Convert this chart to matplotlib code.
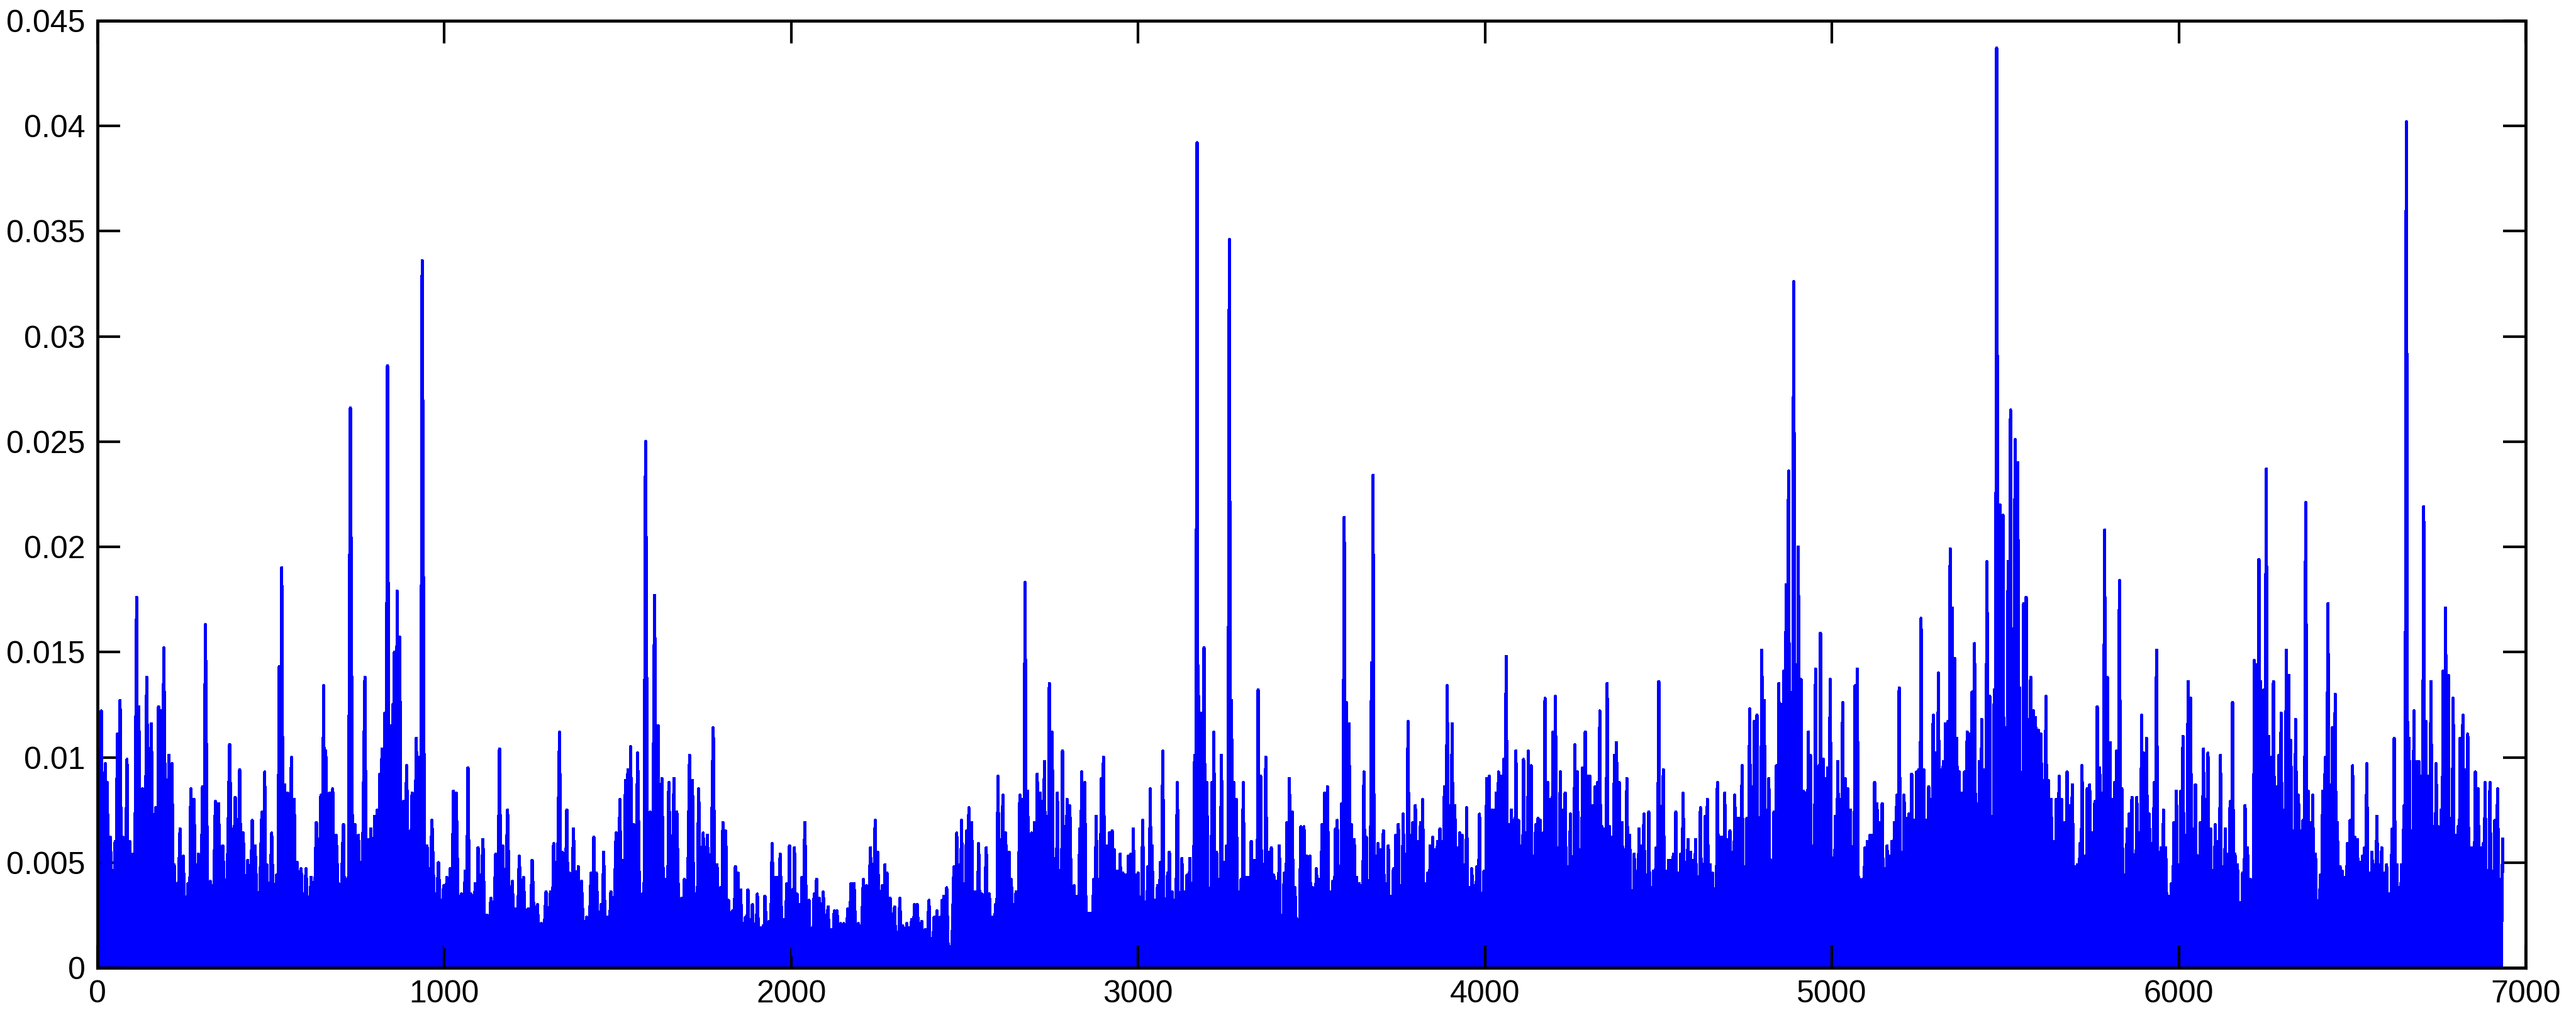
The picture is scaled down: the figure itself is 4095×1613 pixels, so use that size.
import numpy as np
import matplotlib
matplotlib.use("Agg")
import matplotlib.pyplot as plt

plt.rcParams['font.family'] = ['Liberation Sans', 'DejaVu Sans']

# spikes: (sample index, value)
seg1 = [(11,.0122),(23,.0097),(28,.0088),(37,.0062),(51,.006),(57,.0111),(65,.0127),(74,.0062),(85,.0099),(93,.006),
        (100,.0054),(113,.0176),(119,.0124),(130,.0085),(142,.0138),(155,.0116),(168,.0076),(176,.0124),(184,.0122),(191,.0152),
        (206,.0101),(215,.0097),(221,.0049),(238,.0066),(247,.0053),(261,.004),(269,.0085),(278,.008),(291,.0054),(303,.0086),
        (311,.0163),(325,.0041),(340,.0079),(349,.0078),(361,.0058),(381,.0106),(397,.0081),(410,.0094),(420,.0064),(433,.0051),
        (446,.007),(454,.0058),(474,.0074),(482,.0093),(488,.0049),(502,.0064),(516,.0044),(524,.0143),(531,.019),(540,.0087),
        (548,.0083),(559,.01),(567,.008),(576,.005),(587,.0047),(601,.0047),(616,.0043),(631,.0069),(644,.0082),(652,.0134),
        (658,.0103),(669,.0083),(678,.0085),(688,.0063),(709,.0068),(717,.0042),(729,.0266),(743,.0068),(752,.0063),(771,.0138),
        (779,.0061),(788,.0066),(799,.0072),(807,.0075),(814,.0092),(820,.0104),(828,.0121),(836,.0286),(845,.0115),(851,.0125),
        (856,.015),(864,.0179),(871,.0157),(882,.0079),(891,.0096),(907,.0083),(919,.0109),(928,.01),(936,.0336),(950,.0058),
        (964,.007),(983,.005),(998,.0039),(1007,.0043),(1017,.0047),(1026,.0084),(1034,.0083),(1049,.0035),(1060,.0046),(1068,.0095),
        (1077,.0035),(1089,.004),(1097,.0057),(1111,.0061),(1123,.0025),(1134,.0033),(1148,.0054),(1159,.0104),(1168,.0058),(1182,.0075),
        (1196,.0041),(1204,.0028),(1216,.0053),(1228,.0043),(1242,.0028),(1253,.0051),(1268,.003),(1279,.0021),(1293,.0036),(1306,.0036),
        (1315,.0059),(1332,.0112),(1340,.0055),(1353,.0075),(1361,.0045),(1372,.0066),(1386,.0048),(1395,.0041),(1410,.0024),(1423,.0045),
        (1431,.0062),(1438,.0045),(1452,.003),(1459,.0055),(1469,.0024),(1480,.0036),(1495,.0064),(1506,.008),(1514,.0051),(1522,.0089),
        (1529,.0094),(1537,.0105),(1546,.0068),(1557,.0102),(1571,.0035),(1580,.025),(1593,.0074),(1606,.0177),(1616,.0115),(1627,.009),
        (1639,.0042),(1647,.0088),(1662,.009),(1670,.0074),(1684,.0033),(1692,.0042),(1707,.0101),(1715,.0089),(1724,.0035),(1733,.0085),
        (1746,.0064),(1758,.0063),(1775,.0114)]

seg2 = [(1786,.0049),(1795,.0038),(1803,.0069),(1811,.0065),(1819,.0032),(1830,.0027),(1839,.0048),(1847,.0045),(1854,.0037),(1862,.0021),
        (1868,.0024),(1875,.0037),(1881,.0023),(1888,.003),(1895,.002),(1902,.0035),(1911,.0019),(1919,.002),(1924,.0034),(1936,.0022),
        (1945,.0059),(1953,.0043),(1958,.0043),(1968,.0054),(1979,.0023),(1987,.004),(1995,.0058),(2002,.0023),(2009,.0057),(2017,.0035),
        (2022,.003),(2031,.0043),(2039,.0069),(2051,.0032),(2058,.0018),(2066,.0035),(2073,.0042),(2081,.0033),(2092,.0036),(2106,.0029),
        (2115,.0018),(2124,.0027),(2132,.0027),(2142,.0021),(2151,.0021),(2163,.0028),(2172,.004),(2181,.004),(2193,.0021),(2208,.0042),
        (2217,.0039),(2228,.0057),(2242,.007),(2249,.0055),(2262,.0039),(2270,.0049),(2276,.0045),(2285,.0033),(2298,.0029),(2305,.0017),
        (2313,.0033),(2321,.002),(2333,.0021),(2341,.0019),(2347,.0023),(2355,.003),(2363,.003),(2376,.0022),(2385,.0018),(2397,.0032),
        (2403,.0014),(2412,.0024),(2420,.0027),(2429,.0024),(2435,.0032),(2440,.0034),(2448,.0038),(2457,.001),(2469,.0048),(2477,.0064),
        (2482,.0049),(2491,.007),(2498,.004),(2505,.0065),(2512,.0076),(2520,.0069),(2528,.0036),(2533,.0036),(2540,.0059),(2550,.0035),
        (2562,.0057),(2571,.0035),(2580,.0024),(2589,.003),(2596,.0091),(2603,.0061),(2610,.0082),(2618,.0064),(2628,.0055),(2634,.0042),
        (2648,.0036),(2659,.0082),(2667,.008),(2674,.0183),(2681,.0084),(2693,.0064),(2701,.0069),(2709,.0092),(2718,.0083),(2730,.0098),
        (2737,.0072),(2744,.0135),(2752,.0112),(2760,.0052),(2767,.0083),(2775,.0039),(2782,.0103),(2790,.0053),(2795,.008),(2803,.0077),
        (2815,.0039),(2823,.0034),(2832,.0066),(2837,.0093),(2846,.0088),(2854,.0026),(2863,.0026),(2872,.0042),(2879,.0072),(2886,.0042),
        (2894,.009),(2900,.01),(2909,.0058),(2917,.0064),(2925,.0065),(2931,.0056),(2939,.0046),(2948,.0054),(2956,.0045),(2964,.0044),
        (2972,.0053),(2979,.0054),(2986,.0066),(2993,.0044),(3000,.0045),(3007,.0033),(3013,.007),(3021,.0025),(3028,.0048),(3035,.0085),
        (3040,.0058),(3048,.0032),(3056,.0039),(3064,.005),(3071,.0103),(3078,.0027),(3085,.0045),(3090,.0055),(3098,.0036),(3104,.0032),
        (3113,.0088),(3120,.0032),(3126,.0052),(3135,.0036),(3141,.0044),(3149,.0052),(3155,.0019),(3163,.0101),(3170,.0392),(3175,.0129),
        (3183,.0121),(3190,.0152),(3198,.0088),(3206,.0035),(3213,.0088),(3218,.0112),(3226,.0055),(3233,.0042),(3240,.0101),(3248,.005),
        (3255,.0058),(3263,.0346),(3269,.0127),(3276,.0088),(3283,.008),(3291,.0036),(3297,.0042),(3303,.0088),(3311,.0043),(3319,.0043),
        (3326,.006),(3333,.0051),(3340,.0051),(3346,.0132),(3353,.0091),(3361,.0046),(3368,.01),(3376,.0055),(3384,.0057),(3391,.0044),
        (3399,.0041),(3407,.0058),(3413,.0022),(3421,.0045),(3429,.0069),(3436,.009),(3444,.0074),(3452,.0038),(3461,.0023),(3469,.0067),
        (3478,.0067),(3487,.0053),(3495,.0053),(3503,.0038),(3514,.0047),(3523,.0042),(3530,.0068),(3538,.0083),(3546,.0086),(3553,.0036)]

seg3 = [(3561,.0041),(3569,.0066),(3574,.007),(3580,.0032),(3587,.0078),(3594,.0214),(3600,.0126),(3608,.0116),(3615,.0068),(3623,.0061),
        (3630,.0043),(3637,.004),(3643,.0039),(3651,.0093),(3658,.0062),(3665,.004),(3673,.0145),(3677,.0234),(3684,.0034),(3691,.0059),
        (3699,.0056),(3707,.0065),(3714,.003),(3721,.0058),(3728,.0034),(3736,.0047),(3743,.0063),(3750,.0068),(3757,.0039),(3764,.0073),
        (3772,.0054),(3778,.0117),(3785,.0063),(3792,.0069),(3799,.0077),(3807,.006),(3814,.0069),(3820,.008),(3828,.004),(3835,.0045),
        (3842,.0058),(3849,.0062),(3857,.0056),(3863,.006),(3870,.0066),(3877,.006),(3883,.0086),(3891,.0134),(3899,.0077),(3905,.0116),
        (3913,.0077),(3920,.0057),(3927,.0064),(3934,.0063),(3941,.0049),(3947,.0076),(3954,.0038),(3962,.0047),(3969,.0039),(3976,.0048),
        (3984,.0073),(3990,.0031),(3997,.0046),(4005,.009),(4012,.0091),(4019,.0075),(4026,.0075),(4032,.0083),(4039,.0093),(4047,.0091),
        (4054,.0099),(4061,.0148),(4068,.0068),(4076,.0075),(4082,.007),(4089,.0103),(4097,.007),(4104,.0058),(4111,.0099),(4117,.0064),
        (4125,.0103),(4133,.0096),(4139,.0053),(4146,.0068),(4153,.0071),(4159,.007),(4167,.0064),(4173,.0128),(4181,.0088),(4188,.008),
        (4196,.0112),(4203,.0129),(4209,.0057),(4217,.0093),(4224,.0075),(4231,.0083),(4239,.0048),(4246,.0073),(4252,.0022),(4259,.0106),
        (4266,.0093),(4274,.0056),(4281,.0095),(4289,.0112),(4296,.0091),(4302,.0091),(4309,.0077),(4317,.0086),(4324,.0088),(4331,.0122),
        (4337,.0067),(4345,.0066),(4352,.0135),(4359,.0067),(4366,.0062),(4373,.0101),(4379,.0107),(4387,.0088),(4395,.0069),(4402,.0056),
        (4409,.009),(4417,.0063),(4424,.0035),(4430,.0054),(4437,.0046),(4444,.0066),(4451,.0058),(4458,.0073),(4466,.0044),(4472,.0074),
        (4479,.0038),(4486,.0046),(4493,.0057),(4501,.0136),(4508,.0044),(4514,.0094),(4521,.0046),(4529,.0051),(4536,.0051),(4543,.0054),
        (4550,.0074),(4556,.0045),(4564,.0054),(4571,.0083),(4578,.005),(4585,.0061),(4593,.0055),(4599,.0051),(4607,.0061),(4614,.0033),
        (4621,.0076),(4628,.0038),(4635,.0072),(4641,.008),(4649,.0049),(4656,.0045),(4663,.0032),(4670,.0088),(4678,.0062),(4684,.0062),
        (4691,.0083),(4699,.0061),(4706,.0065),(4713,.0055),(4720,.0082),(4728,.0071),(4734,.0071),(4741,.0096),(4748,.0048),(4755,.0071),
        (4763,.0123),(4770,.0086),(4776,.0117),(4784,.012),(4791,.0051),(4798,.0151),(4805,.0127),(4811,.0075),(4818,.009),(4826,.0051),
        (4833,.0074),(4840,.0096),(4847,.0135),(4855,.0125),(4861,.0141),(4868,.0182),(4875,.0236),(4882,.012),(4890,.0326),(4897,.0144),
        (4903,.02),(4911,.0137),(4918,.0084),(4925,.0083),(4932,.0112),(4938,.0101),(4945,.0035),(4953,.0142),(4960,.0093),(4967,.0159),
        (4975,.0099),(4982,.009),(4988,.0095),(4995,.0137),(5003,.005),(5010,.0072),(5017,.0098),(5025,.008),(5031,.0126),(5038,.009),
        (5046,.0085),(5053,.0075),(5060,.0056),(5067,.0134),(5073,.0142),(5080,.0042),(5088,.0042),(5095,.0057),(5102,.006),(5110,.0063),
        (5117,.0063),(5123,.0088),(5130,.0078),(5138,.0069),(5145,.0078),(5152,.0047),(5159,.0058),(5166,.0053),(5173,.006),(5180,.0069),
        (5187,.0082),(5194,.0133),(5202,.0055),(5208,.0082),(5215,.0071),(5222,.0073),(5230,.0092),(5237,.007),(5244,.0093),(5250,.0094),
        (5257,.0166),(5265,.0094),(5272,.007),(5279,.0086),(5286,.008),(5292,.012),(5299,.0102),(5307,.014),(5314,.0094),(5321,.0098),
        (5327,.0116)]

seg4 = [(5334,.0117),(5341,.0199),(5347,.0171),(5354,.0147),(5360,.0109),(5367,.0093),(5375,.0083),(5382,.0093),(5390,.0112),(5396,.0111),
        (5404,.0131),(5411,.0154),(5419,.0064),(5425,.0098),(5432,.0118),(5440,.0094),(5447,.0193),(5455,.0129),(5461,.0072),(5468,.0132),
        (5475,.0437),(5484,.022),(5493,.0215),(5500,.0114),(5508,.0193),(5515,.0265),(5522,.0133),(5528,.0251),(5532,.0176),(5536,.024),
        (5541,.0133),(5546,.0088),(5553,.0173),(5560,.0176),(5567,.0118),(5573,.0138),(5581,.0122),(5587,.0119),(5595,.0113),(5603,.0111),
        (5610,.0089),(5617,.0129),(5624,.0089),(5632,.008),(5640,.006),(5647,.008),(5655,.0091),(5662,.008),(5670,.0069),(5678,.0093),
        (5685,.0077),(5693,.0087),(5702,.0048),(5708,.0049),(5715,.0059),(5721,.0096),(5729,.0053),(5736,.0085),(5743,.0087),(5750,.0064),
        (5758,.0079),(5765,.0124),(5772,.0095),(5780,.0083),(5786,.0208),(5794,.0138),(5802,.0107),(5808,.008),(5815,.0088),(5821,.0103),
        (5829,.0184),(5836,.0085),(5843,.0044),(5851,.0066),(5857,.0073),(5865,.0081),(5872,.0053),(5879,.0081),(5886,.0064),(5893,.012),
        (5899,.0102),(5907,.0109),(5915,.0073),(5922,.0059),(5929,.0088),(5936,.0151),(5943,.0055),(5949,.0057),(5956,.0075),(5962,.0057),
        (5971,.0034),(5979,.004),(5986,.0069),(5993,.0084),(6001,.0049),(6006,.0084),(6012,.011),(6019,.0063),(6027,.0136),(6034,.0128),
        (6041,.0066),(6048,.0087),(6055,.0053),(6062,.0069),(6071,.0104),(6077,.008),(6084,.0102),(6092,.0066),(6098,.004),(6105,.0068),
        (6112,.006),(6120,.0101),(6127,.003),(6134,.0066),(6141,.0054),(6148,.0079),(6155,.0126),(6162,.0054),(6169,.0049),(6177,.0031),
        (6184,.0045),(6191,.0077),(6198,.0057),(6206,.0042),(6212,.0039),(6218,.0146),(6224,.0144),(6231,.0194),(6236,.0136),(6245,.0132),
        (6252,.0237),(6259,.011),(6267,.01),(6273,.0136),(6281,.0086),(6289,.0101),(6295,.0121),(6303,.0075),(6310,.0151),(6317,.0139),
        (6323,.0108),(6330,.0065),(6337,.0118),(6345,.0082),(6352,.0065),(6358,.007),(6366,.0221),(6373,.0084),(6380,.0069),(6386,.0082),
        (6394,.0054),(6401,.0023),(6408,.0044),(6415,.0084),(6422,.01),(6430,.0173),(6436,.0087),(6443,.0114),(6451,.013),(6457,.0069),
        (6465,.0048),(6471,.0046),(6479,.0043),(6486,.0059),(6494,.007),(6501,.0096),(6507,.0062),(6515,.0061),(6522,.005),(6529,.0053),
        (6535,.0057),(6542,.0097),(6549,.0045),(6557,.0055),(6565,.0049),(6571,.0072),(6579,.0049),(6585,.0057),(6593,.0045),(6599,.0049),
        (6606,.0035),(6615,.0066),(6621,.0109),(6629,.0049),(6635,.0035),(6642,.0049),(6649,.0077),(6656,.0402),(6664,.0109),(6671,.0065),
        (6678,.0122),(6685,.0098),(6692,.0098),(6699,.0091),(6706,.0219),(6712,.0117),(6719,.0091),(6727,.0136),(6734,.0067),(6742,.0097),
        (6748,.0067),(6756,.0075),(6762,.0141),(6769,.0171),(6777,.0139),(6783,.0067),(6791,.0128),(6797,.0063),(6805,.0067),(6811,.0109),
        (6819,.012),(6827,.0094),(6833,.0111),(6841,.0057),(6847,.0057),(6855,.0093),(6863,.0085),(6870,.0057),(6877,.0059),(6883,.0088),
        (6890,.0046),(6897,.0088),(6905,.0046),(6911,.007),(6919,.0085),(6927,.0042),(6934,.0061)]

# lower edge of the solid band, one value per 500 samples
floor_level = [0.0011, 0.0012, 0.0010, 0.0010, 0.0006, 0.0012, 0.0013,
               0.0014, 0.0016, 0.0017, 0.0018, 0.0017, 0.0016, 0.0016]

xticks = [0, 1000, 2000, 3000, 4000, 5000, 6000, 7000]
yticks = [0, 0.005, 0.01, 0.015, 0.02, 0.025, 0.03, 0.035, 0.04, 0.045]
ylabels = ['0', '0.005', '0.01', '0.015', '0.02', '0.025', '0.03', '0.035', '0.04', '0.045']


def build_series(spikes):
    xs, ys = [0], [floor_level[0]]
    for k, (s, v) in enumerate(spikes):
        xs.append(s)
        ys.append(v)
        if k + 1 < len(spikes):
            nxt = spikes[k + 1][0]
            mid = 0.5 * (s + nxt)
            xs.append(mid)
            ys.append(floor_level[min(int(mid // 500), len(floor_level) - 1)])
    return np.array(xs), np.array(ys)


def main():
    spikes = seg1 + seg2 + seg3 + seg4
    x, y = build_series(spikes)

    fig = plt.figure(figsize=(40.95, 16.13), dpi=100)
    ax = fig.add_axes([0.03785, 0.0465, 0.94261, 0.93304])

    ax.fill_between(x, 0, y, color='#0000ff', linewidth=0, antialiased=False)
    ax.plot(x, y, color='#0000ff', linewidth=3.0, antialiased=False)

    ax.set_xlim(0, 7000)
    ax.set_ylim(0, 0.045)
    ax.set_xticks(xticks, labels=[str(t) for t in xticks])
    ax.set_yticks(yticks, labels=ylabels)

    for side in ax.spines.values():
        side.set_linewidth(3.5)
    ax.tick_params(direction='in', length=26, width=3, labelsize=36,
                   top=True, right=True, pad=14)

    fig.savefig('out.png', dpi=100)


if __name__ == '__main__':
    main()
